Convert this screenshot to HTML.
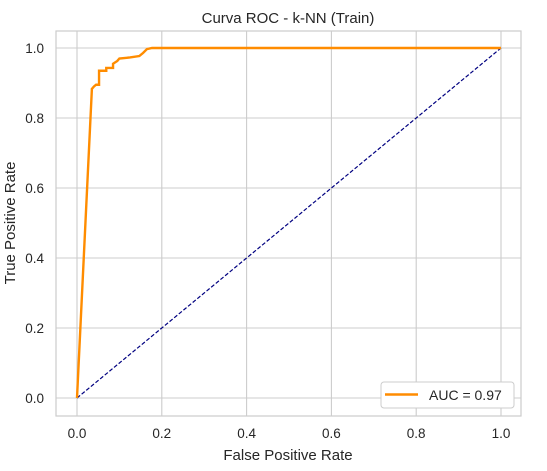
<!DOCTYPE html>
<html><head><meta charset="utf-8"><style>
body{margin:0;background:#fff;font-family:"Liberation Sans","DejaVu Sans",sans-serif}
svg text{font-family:"Liberation Sans","DejaVu Sans",sans-serif;fill:#262626}
</style></head><body>
<svg id="chart" width="547" height="466" xmlns="http://www.w3.org/2000/svg">
<text x="288" y="23" font-size="15" text-anchor="middle">Curva ROC - k-NN (Train)</text>
<g id="grid"></g>
<rect x="56" y="31" width="465" height="385" fill="none" stroke="#cccccc" stroke-width="1.2"/>
<g id="ticks"></g>
<text x="288" y="460" font-size="15" text-anchor="middle">False Positive Rate</text>
<text transform="translate(15,223) rotate(-90)" font-size="15" text-anchor="middle">True Positive Rate</text>
<g id="series"></g>
<g>
<rect x="381" y="382" width="133" height="26" rx="3" fill="#fff" stroke="#cccccc"/>
<line x1="385" y1="394.5" x2="418" y2="394.5" stroke="darkorange" stroke-width="2.4"/>
<text x="429" y="400" font-size="14">AUC = 0.97</text>
</g>
</svg>
<script>
const fpr=[0,0.035,0.035,0.04,0.045,0.052,0.052,0.069,0.069,0.085,0.085,0.095,0.10,0.125,0.147,0.156,0.165,0.177,1.0];
const tpr=[0,0.88,0.883,0.89,0.895,0.895,0.935,0.935,0.943,0.943,0.955,0.963,0.97,0.973,0.977,0.986,0.997,1.0,1.0];
const ticks=[0,0.2,0.4,0.6,0.8,1.0];
const tickLabels=["0.0","0.2","0.4","0.6","0.8","1.0"];
const X=v=>77+424*v, Y=v=>398-350*v;
const ns="http://www.w3.org/2000/svg";
const mk=(t,a,p)=>{const e=document.createElementNS(ns,t);for(const k in a)e.setAttribute(k,a[k]);p.appendChild(e);return e;};
const g=document.getElementById('grid'),tk=document.getElementById('ticks'),s=document.getElementById('series');
ticks.forEach((v,i)=>{
 let l=mk('line',{x1:X(v),x2:X(v),y1:31,y2:416,stroke:'#cccccc','stroke-width':1.1},g);
 
 
 l=mk('line',{x1:56,x2:521,y1:Y(v),y2:Y(v),stroke:'#cccccc','stroke-width':1.1},g);
 
 
 let t=mk('text',{x:X(v),y:438,'font-size':13.5,'text-anchor':'middle'},tk);t.textContent=tickLabels[i];
 
 
 t=mk('text',{x:44,y:Y(v)+5,'font-size':13.5,'text-anchor':'end'},tk);t.textContent=tickLabels[i];
 
 
});
let d=mk('line',{x1:X(0),y1:Y(0),x2:X(1),y2:Y(1),stroke:'navy','stroke-width':1.2,'stroke-dasharray':'4,2'},s);


let p=mk('polyline',{points:fpr.map((f,i)=>X(f)+','+Y(tpr[i])).join(' '),fill:'none',stroke:'darkorange','stroke-width':2.4},s);


</script>
</body></html>
